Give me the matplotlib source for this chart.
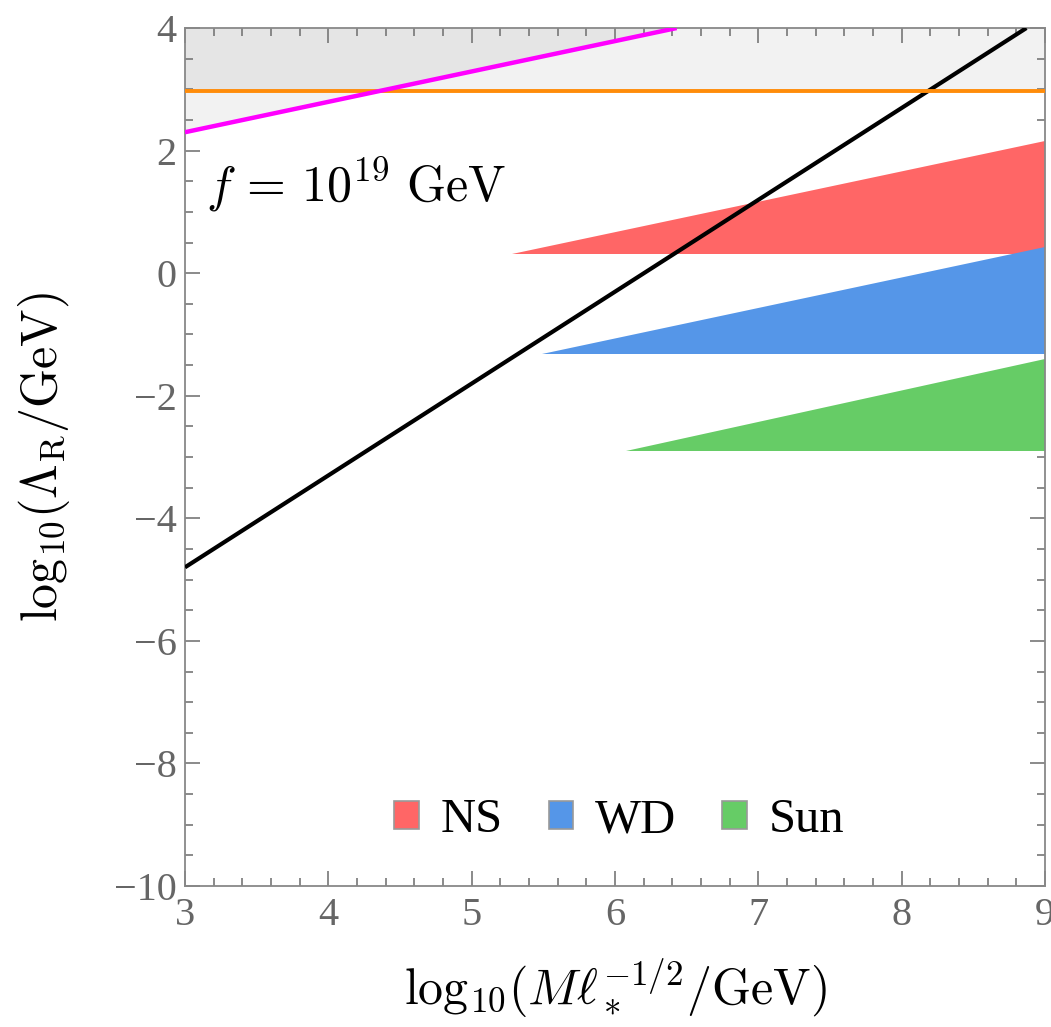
import matplotlib
matplotlib.use("Agg")
import matplotlib.pyplot as plt
from matplotlib.patches import Patch, Polygon
from matplotlib.ticker import MultipleLocator, FuncFormatter

plt.rcParams['mathtext.fontset'] = 'cm'
plt.rcParams['font.family'] = ['Liberation Serif', 'DejaVu Serif']

# Constraint lines (endpoints in log10 units)
black_x = [3.0, 8.87]
black_y = [-4.8, 4.0]
magenta_x = [3.0, 6.43]
magenta_y = [2.3, 4.0]
orange_y = 2.97

# Stellar exclusion wedges: (x_tip, base_y, top_y at x=9)
labels = ["NS", "WD", "Sun"]
tips_x = [5.28, 5.49, 6.08]
bases_y = [0.31, -1.32, -2.9]
tops_y = [2.15, 0.43, -1.4]
colors = ["#FF6666", "#5596E8", "#66CC66"]

xmin, xmax, ymin, ymax = 3, 9, -10, 4

fig = plt.figure(figsize=(10.51, 10.27), dpi=100)
ax = fig.add_axes([0.176, 0.1373, 0.8183, 0.8354])
ax.set_xlim(xmin, xmax)
ax.set_ylim(ymin, ymax)

# Shaded regions above the orange and magenta lines
ax.fill_between([xmin, xmax], orange_y, ymax, color='black', alpha=0.05, lw=0, zorder=1)
ax.add_patch(Polygon([(magenta_x[0], magenta_y[0]), (magenta_x[1], magenta_y[1]),
                      (magenta_x[0], ymax)], closed=True, facecolor='black',
                     alpha=0.05, lw=0, zorder=1))

for tx, by, ty, c in zip(tips_x, bases_y, tops_y, colors):
    ax.add_patch(Polygon([(tx, by), (xmax, by), (xmax, ty)], closed=True,
                         facecolor=c, edgecolor='none', zorder=2))

ax.plot(black_x, black_y, color='black', lw=3.0, zorder=4, solid_capstyle='butt')
ax.axhline(orange_y, color='#FF8C0A', lw=2.8, zorder=4)
ax.plot(magenta_x, magenta_y, color='#FF00FF', lw=3.2, zorder=5, solid_capstyle='butt')

ax.text(3.15, 1.45, r'$f\,=\,10^{19}\ \mathrm{GeV}$', fontsize=36, color='black',
        va='center', ha='left')

# Axes styling
tick_gray = '#777777'
for sp in ax.spines.values():
    sp.set_color('#888888')
    sp.set_linewidth(1.3)
ax.xaxis.set_major_locator(MultipleLocator(1))
ax.xaxis.set_minor_locator(MultipleLocator(0.2))
ax.yaxis.set_major_locator(MultipleLocator(2))
ax.yaxis.set_minor_locator(MultipleLocator(0.5))
ax.tick_params(which='both', direction='in', top=True, right=True, color=tick_gray,
               labelcolor='#666666', labelsize=29, width=1.2)
ax.tick_params(which='major', length=11)
ax.tick_params(which='minor', length=6)
ax.tick_params(axis='x', pad=8)
ax.tick_params(axis='y', pad=6)
fmt = FuncFormatter(lambda v, p: f"{int(round(v))}".replace('-', '\u2212'))
ax.xaxis.set_major_formatter(fmt)
ax.yaxis.set_major_formatter(fmt)

ax.set_xlabel(r'$\mathrm{log}_{10}(M\ell_*^{-1/2}/\mathrm{GeV})$', fontsize=36, labelpad=16)
ax.set_ylabel(r'$\mathrm{log}_{10}(\Lambda_{\mathrm{R}}/\mathrm{GeV})$', fontsize=36, labelpad=30)

handles = [Patch(facecolor=c, edgecolor='#999999', lw=1.2) for c in colors]
ax.legend(handles, labels, loc='lower center', bbox_to_anchor=(0.505, 0.0), ncol=3,
          frameon=False, fontsize=35, handlelength=0.5, handleheight=0.5,
          handletextpad=0.45, columnspacing=0.95)

fig.savefig('out.png', dpi=100)
